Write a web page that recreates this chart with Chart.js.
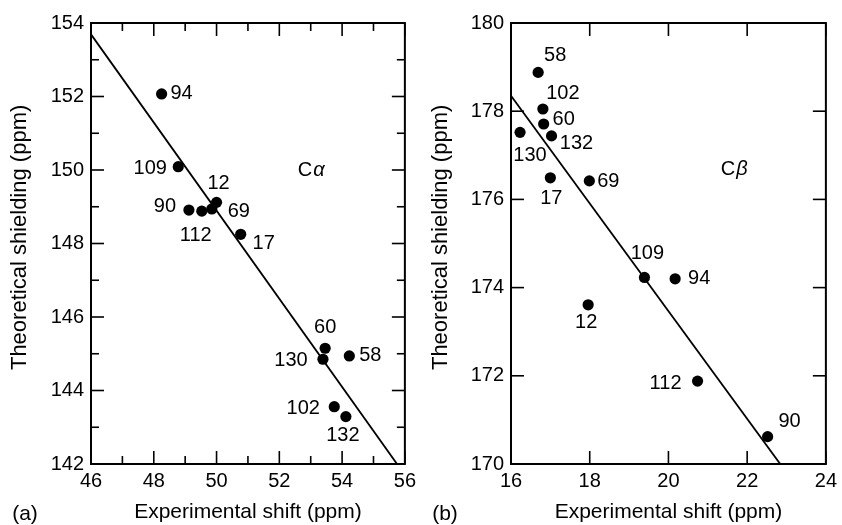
<!DOCTYPE html>
<html>
<head>
<meta charset="utf-8">
<title>Theoretical shielding vs experimental shift</title>
<script src="https://cdn.jsdelivr.net/npm/chart.js@4"></script>
<style>
  html, body { margin: 0; padding: 0; background: #fff; }
  #wrap { position: relative; width: 842px; height: 525px; overflow: hidden; }
  .panel { position: absolute; top: 0; }
</style>
</head>
<body>
<div id="wrap">
  <canvas id="chartA" class="panel" style="left:0" width="421" height="525"></canvas>
  <canvas id="chartB" class="panel" style="left:421px" width="421" height="525"></canvas>
</div>
<script>
// ---- Panel (a): C-alpha ----
const residuesA = ['94', '109', '12', '90', '69', '112', '17', '60', '130', '58', '102', '132'];
const expShiftA = [48.25, 48.78, 50.00, 49.12, 49.85, 49.53, 50.77, 53.46, 53.39, 54.23, 53.75, 54.12];
const shieldingA = [152.07, 150.09, 149.12, 148.91, 148.94, 148.88, 148.25, 145.15, 144.85, 144.94, 143.56, 143.29];
const fitShiftA = [46, 55.75];
const fitShieldingA = [153.69, 142];

// ---- Panel (b): C-beta ----
const residuesB = ['58', '102', '60', '132', '130', '17', '69', '109', '94', '12', '112', '90'];
const expShiftB = [16.69, 16.81, 16.83, 17.03, 16.23, 17.00, 17.99, 19.39, 20.17, 17.96, 20.74, 22.52];
const shieldingB = [178.88, 178.05, 177.71, 177.44, 177.52, 176.49, 176.42, 174.23, 174.20, 173.61, 171.88, 170.62];
const fitShiftB = [16, 22.84];
const fitShieldingB = [178.35, 170];

// Where each residue tag sits relative to its dot (pixels)
const tagOffsetsA = [[20, 0], [-28, 2], [2, -19], [-24, -4], [27, 3], [-6, 24], [23, 9],
                     [0, -21], [-32, 1], [21, 0], [-31, 2], [-3, 19]];
const tagOffsetsB = [[17, -17], [20, -16], [20, -5], [25, 8], [10, 23], [1, 21], [19, 1],
                     [3, -24], [24, 0], [-2, 18], [-32, 2], [22, -15]];

const FONT = "'Liberation Sans', Arial, Helvetica, sans-serif";
Chart.defaults.color = '#000';
Chart.defaults.font.family = FONT;

function pairs(xs, ys) { return xs.map((v, i) => ({ x: v, y: ys[i] })); }

// Boxed frame with inward-pointing major and minor ticks on all four sides
const frameTicks = {
  id: 'frameTicks',
  afterDatasetsDraw(chart, args, o) {
    const { ctx, chartArea: a, scales: { x, y } } = chart;
    ctx.save();
    ctx.strokeStyle = '#000';
    ctx.lineWidth = 1.6;
    const seg = (x1, y1, x2, y2) => { ctx.beginPath(); ctx.moveTo(x1, y1); ctx.lineTo(x2, y2); ctx.stroke(); };
    const xTick = (v, len) => { const p = x.getPixelForValue(v); seg(p, a.top, p, a.top + len); seg(p, a.bottom, p, a.bottom - len); };
    const yTick = (v, len) => { const p = y.getPixelForValue(v); seg(a.left, p, a.left + len, p); seg(a.right, p, a.right - len, p); };
    x.ticks.forEach(t => xTick(t.value, o.major));
    y.ticks.forEach(t => yTick(t.value, o.major));
    if (o.minorStep) {
      for (let i = 0; i + 1 < x.ticks.length; i++) xTick((x.ticks[i].value + x.ticks[i + 1].value) / 2, o.minor);
      for (let i = 0; i + 1 < y.ticks.length; i++) yTick((y.ticks[i].value + y.ticks[i + 1].value) / 2, o.minor);
    }
    ctx.lineWidth = 2;
    ctx.strokeRect(a.left, a.top, a.right - a.left, a.bottom - a.top);
    ctx.restore();
  }
};

// Residue numbers beside each dot, the carbon tag and the panel letter
const residueTags = {
  id: 'residueTags',
  afterDatasetsDraw(chart, args, o) {
    const { ctx, scales: { x, y } } = chart;
    const meta = chart.getDatasetMeta(0);
    ctx.save();
    ctx.fillStyle = '#000';
    ctx.font = `20px ${FONT}`;
    ctx.textAlign = 'center';
    ctx.textBaseline = 'middle';
    meta.data.forEach((pt, i) => {
      const [dx, dy] = o.offsets[i];
      ctx.fillText(o.labels[i], pt.x + dx, pt.y + dy);
    });
    // carbon tag: upright "C" followed by an italic Greek letter
    const cx = x.getPixelForValue(o.carbonAt[0]);
    const cy = y.getPixelForValue(o.carbonAt[1]);
    ctx.textAlign = 'left';
    ctx.font = `20px ${FONT}`;
    const wC = ctx.measureText('C').width;
    ctx.font = `italic 20px ${FONT}`;
    const wG = ctx.measureText(o.greek).width;
    const x0 = cx - (wC + wG) / 2;
    ctx.font = `20px ${FONT}`;
    ctx.fillText('C', x0, cy);
    ctx.font = `italic 20px ${FONT}`;
    ctx.fillText(o.greek, x0 + wC + 1, cy);
    // panel letter
    ctx.font = `21px ${FONT}`;
    ctx.textAlign = 'center';
    ctx.textBaseline = 'alphabetic';
    ctx.fillText(o.panel, o.panelX, 520);
    ctx.restore();
  }
};

function makeChart(id, cfg) {
  return new Chart(document.getElementById(id), {
    type: 'scatter',
    data: {
      datasets: [
        {
          data: pairs(cfg.xs, cfg.ys),
          backgroundColor: '#000',
          borderWidth: 0,
          pointRadius: 5.6,
          pointHoverRadius: 5.6,
          order: 1
        },
        {
          type: 'line',
          data: pairs(cfg.fitX, cfg.fitY),
          borderColor: '#000',
          borderWidth: 1.8,
          pointRadius: 0,
          fill: false,
          order: 2
        }
      ]
    },
    options: {
      responsive: false,
      animation: false,
      layout: { padding: { top: 23, right: cfg.padRight, bottom: 0, left: 0 } },
      plugins: {
        legend: { display: false },
        tooltip: { enabled: false },
        frameTicks: { major: 13, minor: 8, minorStep: cfg.minor },
        residueTags: {
          labels: cfg.labels, offsets: cfg.offsets, carbonAt: cfg.carbonAt,
          greek: cfg.greek, panel: cfg.panel, panelX: cfg.panelX
        }
      },
      scales: {
        x: {
          type: 'linear',
          min: cfg.xRange[0], max: cfg.xRange[1],
          grid: { display: false, drawTicks: false },
          border: { display: false },
          ticks: { stepSize: 2, padding: 5, font: { size: 20 }, color: '#000' },
          title: { display: true, text: 'Experimental shift (ppm)', font: { size: 21 }, color: '#000', padding: { top: 0, bottom: 0 } },
          afterFit(s) { s.height = 61; }
        },
        y: {
          type: 'linear',
          min: cfg.yRange[0], max: cfg.yRange[1],
          grid: { display: false, drawTicks: false },
          border: { display: false },
          ticks: { stepSize: 2, padding: 7, font: { size: 20 }, color: '#000' },
          title: { display: true, text: '  Theoretical shielding (ppm)', font: { size: 22 }, color: '#000', padding: { top: 6.5, bottom: 0 } },
          afterFit(s) { s.width = cfg.yWidth; }
        }
      }
    },
    plugins: [frameTicks, residueTags]
  });
}

makeChart('chartA', {
  xs: expShiftA, ys: shieldingA, fitX: fitShiftA, fitY: fitShieldingA,
  labels: residuesA, offsets: tagOffsetsA,
  xRange: [46, 56], yRange: [142, 154],
  yWidth: 91, padRight: 12, minor: true,
  carbonAt: [53, 150], greek: 'α', panel: '(a)', panelX: 25
});

makeChart('chartB', {
  xs: expShiftB, ys: shieldingB, fitX: fitShiftB, fitY: fitShieldingB,
  labels: residuesB, offsets: tagOffsetsB,
  xRange: [16, 24], yRange: [170, 180],
  yWidth: 90, padRight: 13, minor: false,
  carbonAt: [21.66, 176.67], greek: 'β', panel: '(b)', panelX: 24
});
</script>
</body>
</html>
